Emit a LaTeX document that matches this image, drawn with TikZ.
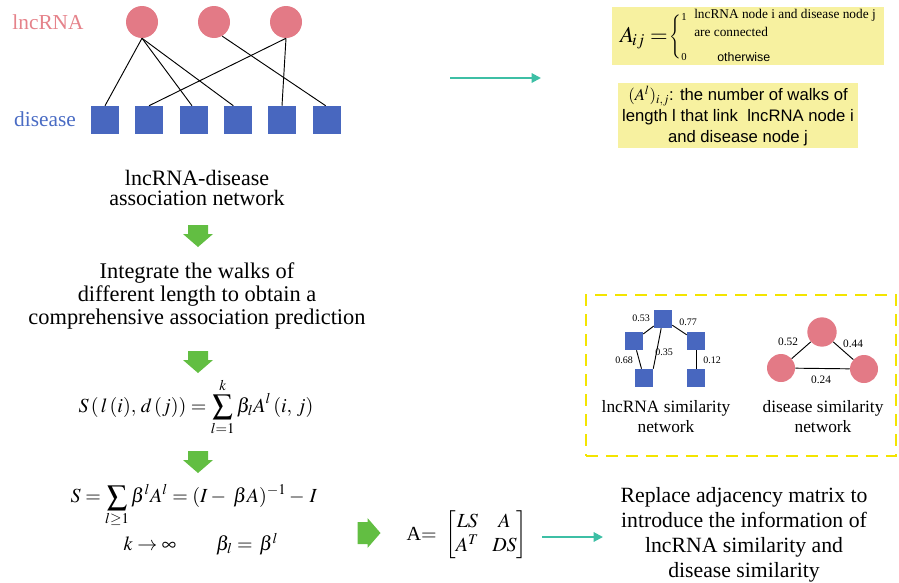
\documentclass[tikz,border=0pt]{standalone}
\usepackage{amsmath}
\usepackage{mathptmx}
\usepackage[no-math]{fontspec}
\setmainfont{Liberation Serif}
\setsansfont{Liberation Sans}
\usetikzlibrary{arrows.meta}
\definecolor{pinkC}{RGB}{227,122,134}
\definecolor{pinkT}{RGB}{229,130,138}
\definecolor{blueC}{RGB}{72,103,191}
\definecolor{blueT}{RGB}{74,108,196}
\definecolor{greenA}{RGB}{98,190,66}
\definecolor{tealA}{RGB}{61,191,165}
\definecolor{yelBox}{RGB}{247,241,160}
\definecolor{yelDash}{RGB}{243,228,0}
\tikzset{
  circ/.style={circle, fill=pinkC, draw=none, minimum size=24pt, inner sep=0pt},
  sq/.style={rectangle, fill=blueC, draw=none, minimum size=21pt, inner sep=0pt},
  ssq/.style={rectangle, fill=blueC, draw=none, minimum size=13.5pt, inner sep=0pt},
  scirc/.style={circle, fill=pinkC, draw=none, minimum size=21pt, inner sep=0pt},
  edge/.style={draw=black, line width=0.7pt},
  txt/.style={inner sep=0pt, align=center, font=\fontsize{16}{17}\selectfont},
  small/.style={inner sep=0pt, font=\fontsize{7.5}{9}\selectfont},
  dsmall/.style={inner sep=0pt, font=\fontsize{8.5}{10}\selectfont},
  frm/.style={inner sep=0pt, font=\fontsize{15}{18}\selectfont},
  teal/.style={draw=tealA, line width=1.5pt, -{Triangle[length=7pt,width=7pt]}},
  pics/downarr/.style={code={\fill[greenA] (-10,-11) -- (10,-11) -- (10,-2) -- (15,-2) -- (0,11) -- (-15,-2) -- (-10,-2) -- cycle;}},
  pics/rightarr/.style={code={\fill[greenA] (-11.5,-11) -- (-1.5,-11) -- (-1.5,-15) -- (11.5,0) -- (-1.5,15) -- (-1.5,11) -- (-11.5,11) -- cycle;}},
}
\begin{document}
\begin{tikzpicture}[x=0.75pt,y=-0.75pt]
\useasboundingbox (0,0) rectangle (899,582);
% bipartite network
\node[txt, text=pinkT] (lnclab) at (48,22) {lncRNA};
\node[txt, text=blueT] (dislab) at (45,119) {disease};
\node[circ] (c1) at (142,22) {};
\node[circ] (c2) at (214,22) {};
\node[circ] (c3) at (286,22) {};
\foreach \i/\x in {1/105,2/149,3/194,4/238,5/282,6/327}{
  \node[sq] (d\i) at (\x,120) {};
}
\draw[edge] (c1.south) -- (d1.north);
\draw[edge] (c1.south) -- ([xshift=-1.5pt]d3.north);
\draw[edge] (c1.south) -- ([xshift=-3.5pt]d4.north);
\draw[edge] (c2.-60) -- ([xshift=-1pt]d6.north);
\draw[edge] (c3.south) -- (d2.north);
\draw[edge] (c3.south) -- (d5.north);
% left column
\node[txt, font=\fontsize{16.5}{14.3}\selectfont] (net) at (197,188) {lncRNA-disease\\association network};
\pic at (198,236) {downarr};
\node[txt, font=\fontsize{16.8}{17}\selectfont] (integ) at (197,296) {Integrate the walks of\\different length to obtain a\\comprehensive association prediction};
\pic at (198,362) {downarr};
\node[frm] (f1) at (196,407) {$\displaystyle S\,(\,l\,(i),\,d\,(j)) = \sum_{l=1}^{k}\beta_l A^l\,(i,\,j)$};
\pic at (198,462) {downarr};
\node[frm] (f2) at (194,506) {$\displaystyle S=\sum_{l\geq 1}\beta^l A^l=(I-\;\beta A)^{-1}-\,I$};
\node[frm] (f3) at (201,544) {$k\to\infty\qquad\beta_l=\,\beta^l$};
\pic at (369,533) {rightarr};
% matrix
\node[inner sep=0pt, font=\fontsize{15}{18}\selectfont] (mat) at (467,535) {A$=\;\begin{bmatrix}LS & A\\ A^T & DS\end{bmatrix}$};
\coordinate (b1) at (542,537);
\coordinate (b2) at (603,537);
\draw[teal] (b1) -- (b2);
\node[txt, font=\fontsize{16.3}{18.8}\selectfont] (repl) at (744,535) {Replace adjacency matrix to\\introduce the information of\\lncRNA similarity and\\disease similarity};
% top arrow
\coordinate (t1) at (450,78);
\coordinate (t2) at (541,78);
\draw[teal] (t1) -- (t2);
% box 1
\node[fill=yelBox, draw=none, minimum width=204pt, minimum height=43.5pt, inner sep=0pt] (box1) at (748,36) {};
\node[inner sep=0pt, anchor=east, font=\fontsize{17}{20}\selectfont] (aij) at (668,38) {$A_{\!ij}=$};
\node[inner sep=0pt, font=\fontsize{11}{13}\selectfont] (brace) at (676,37) {$\left\{\vrule height 14pt depth 14pt width 0pt\right.$};
\node[inner sep=0pt, font=\fontsize{8}{9}\selectfont] (one) at (684,17) {1};
\node[inner sep=0pt, font=\fontsize{8}{9}\selectfont] (zero) at (684,57) {0};
\node[inner sep=0pt, anchor=west, font=\fontsize{10}{12}\selectfont] (l1) at (694,15) {lncRNA node i and disease node j};
\node[inner sep=0pt, anchor=west, font=\fontsize{10}{12}\selectfont] (l2) at (694,32) {are connected};
\node[inner sep=0pt, anchor=west, font=\sffamily\fontsize{9.3}{11}\selectfont] (oth) at (717,57) {otherwise};
% box 2
\node[fill=yelBox, draw=none, minimum width=180pt, minimum height=48.75pt, inner sep=0pt] (box2) at (738,115.5) {};
\node[inner sep=0pt, align=center, font=\sffamily\fontsize{12.5}{15.75}\selectfont] (walks) at (738,116) {$(A^l)_{i,j}$: the number of walks of\\length l that link \ lncRNA node i\\and disease node j};
% dashed box
\node[draw=yelDash, line width=2.2pt, dash pattern=on 9pt off 6pt, minimum width=232.5pt, minimum height=120.75pt, inner sep=0pt] (dbox) at (741,375.5) {};
% lncRNA similarity network
\node[ssq] (sT) at (663,319) {};
\node[ssq] (sL) at (634,341) {};
\node[ssq] (sR) at (696,341) {};
\node[ssq] (sBL) at (644,378) {};
\node[ssq] (sBR) at (696,378) {};
\draw[edge] (sT) -- (sL);
\draw[edge] (sT) -- (sR);
\draw[edge] (sT) -- (sBL.north east);
\draw[edge] (sL) -- (sBL);
\draw[edge] (sR) -- (sBR);
\node[small] (w1) at (641,318) {0.53};
\node[small] (w2) at (688,322) {0.77};
\node[small] (w3) at (624,360) {0.68};
\node[small] (w4) at (664,352) {0.35};
\node[small] (w5) at (712,360) {0.12};
\node[txt, font=\fontsize{13}{15}\selectfont] (lsim) at (666,417) {lncRNA similarity\\network};
% disease similarity network
\node[scirc, minimum size=22pt] (dT) at (822,332) {};
\node[scirc] (dL) at (781,368) {};
\node[scirc] (dR) at (864,369) {};
\draw[edge] (dT) -- (dL);
\draw[edge] (dT) -- (dR);
\draw[edge] (dL) -- (dR);
\node[dsmall] (v1) at (788,342) {0.52};
\node[dsmall] (v2) at (853,344) {0.44};
\node[dsmall] (v3) at (821,380) {0.24};
\node[txt, font=\fontsize{13}{15}\selectfont] (dsim) at (823,417) {disease similarity\\network};
\end{tikzpicture}
\end{document}
